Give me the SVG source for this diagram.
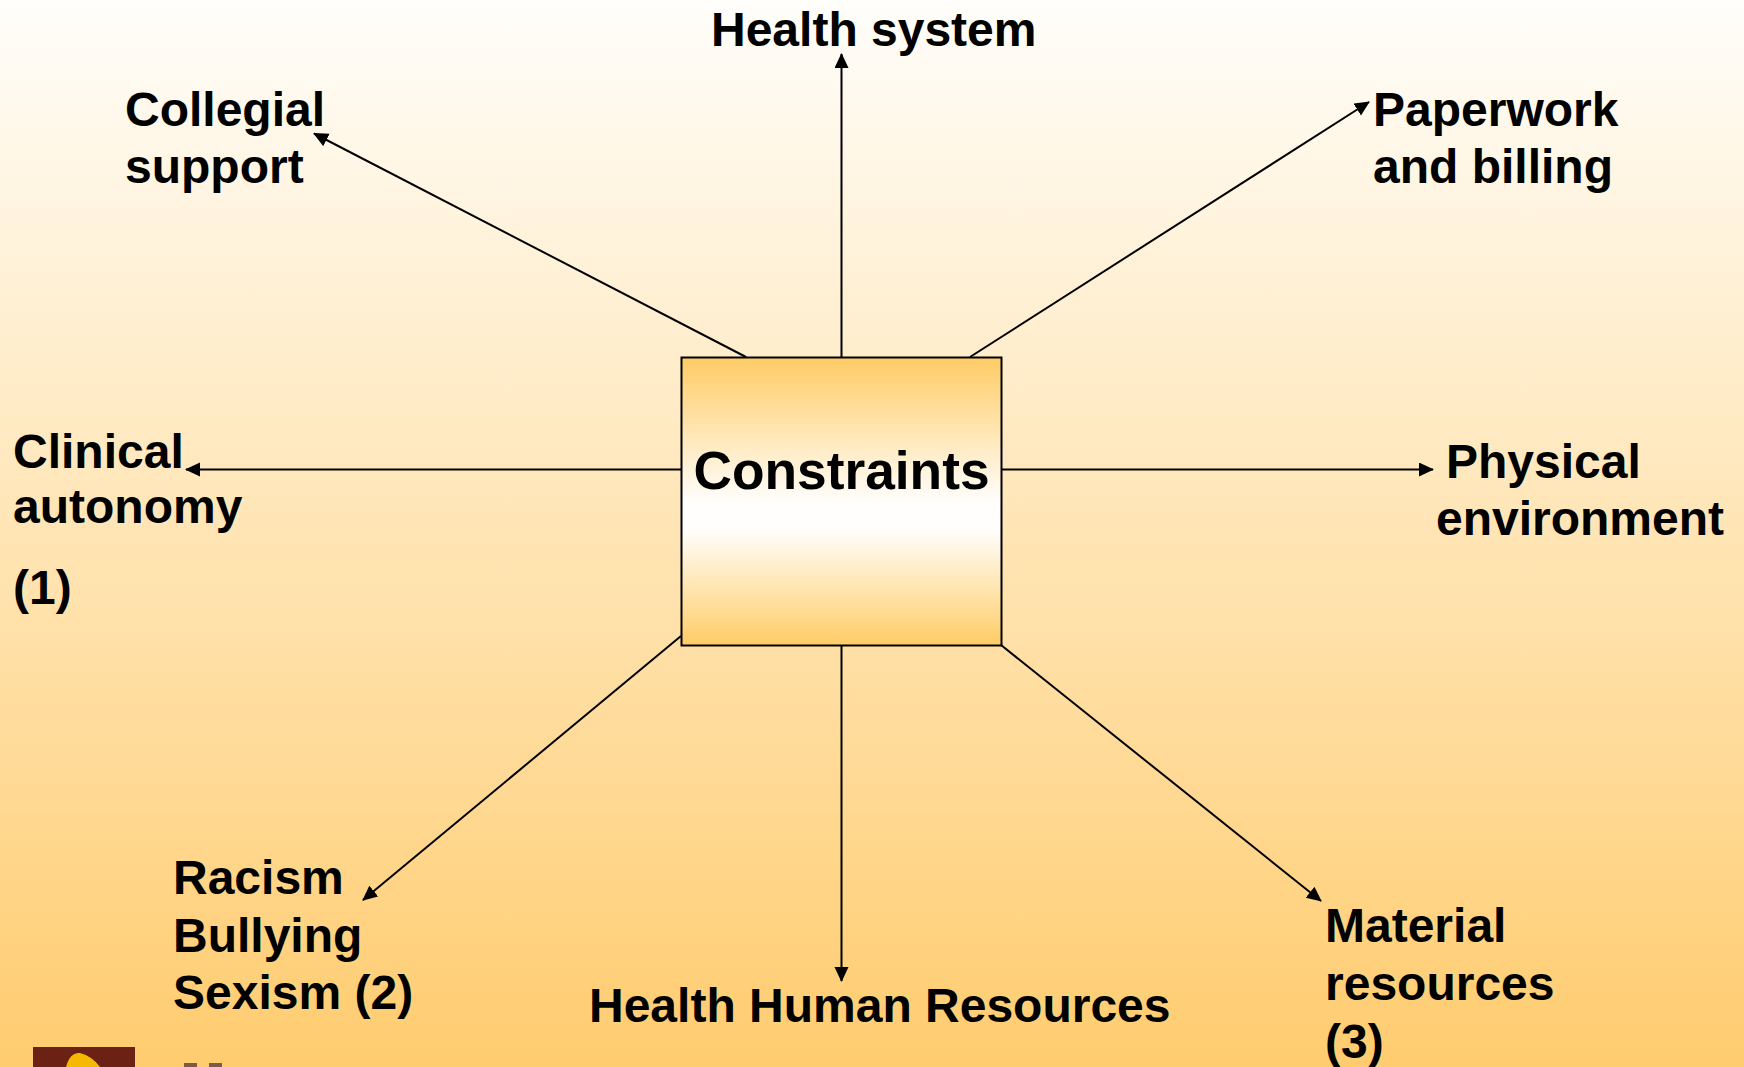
<svg xmlns="http://www.w3.org/2000/svg" width="1744" height="1067" viewBox="0 0 1744 1067">
<style>
text{font-family:"Liberation Sans",Arial,sans-serif;font-weight:700;font-size:48px;fill:#000}
.c{stroke:#000;stroke-width:2;fill:none;marker-end:url(#a)}
</style>
<defs>
<linearGradient id="bg" x1="0" y1="0" x2="0" y2="1"><stop offset="0" stop-color="#fffefb"/><stop offset="1" stop-color="#ffcc6f"/></linearGradient>
<linearGradient id="box" x1="0" y1="0" x2="0" y2="1"><stop offset="0" stop-color="#ffcc66"/><stop offset=".5" stop-color="#fffefc"/><stop offset=".6" stop-color="#fffefc"/><stop offset="1" stop-color="#ffcc66"/></linearGradient>
<marker id="a" markerWidth="8" markerHeight="8" refX="7" refY="3.5" orient="auto" markerUnits="strokeWidth"><path d="M0 0L7.500 3.500L0 7Z" fill="#000"/></marker>
</defs>
<rect width="1744" height="1067" fill="url(#bg)"/>
<g id="connectors">
<path class="c" d="M841.500 357V54"/>
<path class="c" d="M746 357L314 133.500"/>
<path class="c" d="M970 357L1369 102"/>
<path class="c" d="M681 469.500H186"/>
<path class="c" d="M1001 469.500H1433"/>
<path class="c" d="M681 636L363 900"/>
<path class="c" d="M841.500 645V981"/>
<path class="c" d="M1001 645L1321 901"/>
</g>
<g id="constraints"><rect x="681.500" y="357.500" width="320" height="288" fill="url(#box)" stroke="#000" stroke-width="2"/><text x="841.500" y="489" text-anchor="middle" style="font-size:53.300px">Constraints</text></g>
<g id="health-system"><text x="711" y="46">Health system</text></g>
<g id="collegial-support"><text x="125" y="126">Collegial</text><text x="125" y="183">support</text></g>
<g id="paperwork"><text x="1373" y="126">Paperwork</text><text x="1373" y="183">and billing</text></g>
<g id="clinical-autonomy"><text x="13" y="468">Clinical</text><text x="13" y="523">autonomy</text><text x="13" y="604">(1)</text></g>
<g id="physical-environment"><text x="1446" y="478">Physical</text><text x="1436" y="535">environment</text></g>
<g id="racism"><text x="173" y="894">Racism</text><text x="173" y="952">Bullying</text><text x="173" y="1009">Sexism (2)</text></g>
<g id="health-human-resources"><text x="589" y="1022">Health Human Resources</text></g>
<g id="material-resources"><text x="1325" y="942">Material</text><text x="1325" y="1000">resources</text><text x="1325" y="1058">(3)</text></g>
<g id="logo"><rect x="33" y="1047" width="102" height="20" fill="#6b2113"/><path d="M66 1067Q70 1052 80 1053Q92 1056 100 1067Z" fill="#f7b800"/><rect x="184" y="1063" width="13" height="4" fill="#7a5a48"/><rect x="209" y="1063" width="13" height="4" fill="#7a5a48"/></g>
</svg>
